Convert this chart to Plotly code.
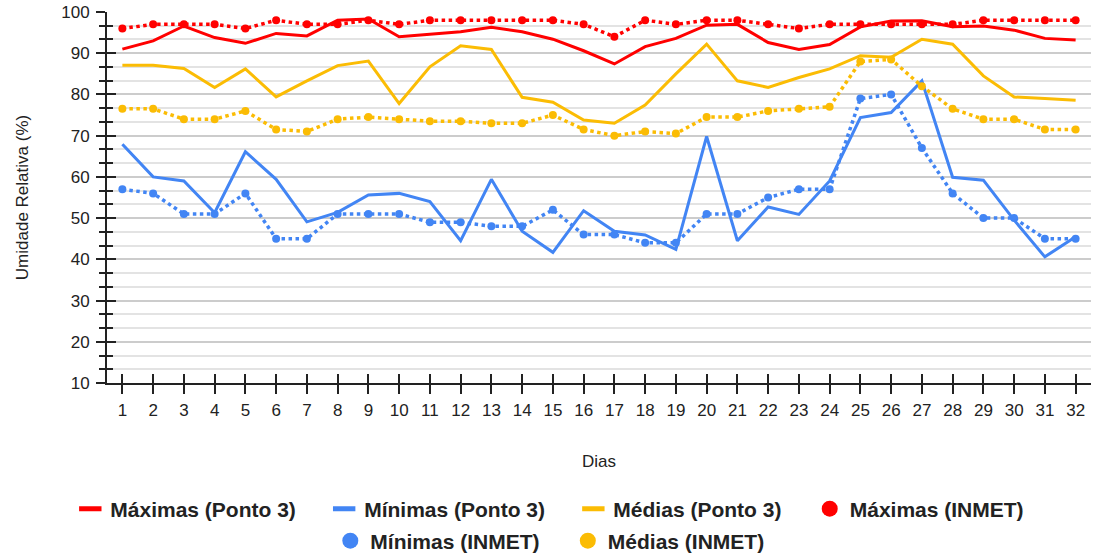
import plotly.graph_objects as go

days = list(range(1, 33))

max_p3 = [91.0, 93.0, 96.6, 93.8, 92.4, 94.8, 94.2, 98.0, 98.3, 94.0, 94.6,
          95.2, 96.3, 95.2, 93.4, 90.6, 87.4, 91.6, 93.6, 96.8, 97.0, 92.6,
          90.9, 92.1, 96.4, 97.8, 97.9, 96.4, 96.6, 95.6, 93.6, 93.2]
min_p3 = [67.9, 60.0, 59.0, 51.3, 66.1, 59.4, 49.1, 51.4, 55.6, 56.0, 54.0,
          44.5, 59.4, 46.8, 41.7, 51.8, 46.8, 45.9, 42.4, 69.8, 44.5, 52.7,
          50.9, 59.0, 74.4, 75.6, 83.3, 59.9, 59.2, 49.5, 40.6, 45.5]
med_p3 = [87.1, 87.1, 86.3, 81.7, 86.2, 79.4, 83.3, 87.0, 88.1, 77.8, 86.7,
          91.8, 90.9, 79.3, 78.1, 73.8, 73.0, 77.4, 85.0, 92.2, 83.3, 81.7,
          84.1, 86.2, 89.4, 89.0, 93.4, 92.2, 84.5, 79.4, 79.0, 78.6]
max_inmet = [96, 97, 97, 97, 96, 98, 97, 97, 98, 97, 98,
             98, 98, 98, 98, 97, 94, 98, 97, 98, 98, 97,
             96, 97, 97, 97, 97, 97, 98, 98, 98, 98]
min_inmet = [57, 56, 51, 51, 56, 45, 45, 51, 51, 51, 49,
             49, 48, 48, 52, 46, 46, 44, 44, 51, 51, 55,
             57, 57, 79, 80, 67, 56, 50, 50, 45, 45]
med_inmet = [76.5, 76.5, 74, 74, 76, 71.5, 71, 74, 74.5, 74, 73.5,
             73.5, 73, 73, 75, 71.5, 70, 71, 70.5, 74.5, 74.5, 76,
             76.5, 77, 88, 88.5, 82, 76.5, 74, 74, 71.5, 71.5]

names_p3 = ["Máximas (Ponto 3)", "Mínimas (Ponto 3)", "Médias (Ponto 3)"]
names_inmet = ["Máximas (INMET)", "Mínimas (INMET)", "Médias (INMET)"]
colors = ["#FF0000", "#4285F4", "#FBBC04"]

y_ticks = [10, 20, 30, 40, 50, 60, 70, 80, 90, 100]

FONT = "Liberation Sans, Arial, sans-serif"
INK = "#222222"

fig = go.Figure()

# Series (legend handled by proxy traces)
for vals, name, c in zip([max_p3, min_p3, med_p3], names_p3, colors):
    fig.add_trace(go.Scatter(x=days, y=vals, mode="lines", name=name,
                             line=dict(color=c, width=3), showlegend=False))
for vals, name, c in zip([max_inmet, min_inmet, med_inmet], names_inmet, colors):
    fig.add_trace(go.Scatter(x=days, y=vals, mode="lines+markers", name=name,
                             line=dict(color=c, width=3.5, dash="dot"),
                             marker=dict(color=c, size=8), showlegend=False))

# Legend proxies: first row (legend), second row (legend2)
legend_names = names_p3 + names_inmet
legend_colors = colors + colors
PAD = "\u00a0" * 4
for i, (name, c) in enumerate(zip(legend_names, legend_colors)):
    lg = "legend" if i < 4 else "legend2"
    label = name + PAD if i in (0, 1, 2, 4) else name
    if i < 3:
        mk = dict(symbol="line-ew", size=19, color=c, line=dict(color=c, width=5.5))
    else:
        mk = dict(symbol="circle", size=18, color=c)
    fig.add_trace(go.Scatter(x=[None], y=[None], mode="markers", name=label,
                             marker=mk, legend=lg))

# Invisible trace on overlay axes (for inside tick marks)
fig.add_trace(go.Scatter(x=days, y=max_p3, mode="lines", xaxis="x2", yaxis="y2",
                         opacity=0, showlegend=False, hoverinfo="skip"))

tick_font = dict(family=FONT, size=17, color=INK)
legend_font = dict(family=FONT, size=21, color=INK, weight="bold")

fig.update_layout(
    width=1097, height=555,
    margin=dict(l=107, r=6, t=12, b=172),
    paper_bgcolor="white", plot_bgcolor="white",
    xaxis=dict(range=[0.5, 32.5], tickmode="array", tickvals=days,
               ticktext=[str(d) for d in days], showgrid=False, automargin=False,
               showline=True, linecolor=INK, linewidth=2, ticklabeloverflow="allow",
               ticks="outside", ticklen=9, tickwidth=2, tickcolor=INK,
               tickfont=tick_font, zeroline=False, ticklabelstandoff=2,
               title=dict(text="Dias", standoff=36,
                          font=dict(family=FONT, size=17, color=INK))),
    yaxis=dict(range=[10, 100], tickmode="array", tickvals=y_ticks, automargin=False,
               showgrid=True, gridcolor="#cccccc", gridwidth=1.5,
               showline=True, linecolor=INK, linewidth=2, ticklabeloverflow="allow",
               ticks="outside", ticklen=9, tickwidth=2, tickcolor=INK,
               tickfont=tick_font, zeroline=False, ticklabelstandoff=3,
               minor=dict(tick0=10, dtick=10 / 3, ticks="outside", ticklen=6,
                          tickwidth=2, tickcolor=INK, showgrid=True,
                          gridcolor="#e3e3e3", gridwidth=1.5),
               title=dict(text="Umidade Relativa (%)", standoff=28,
                          font=dict(family=FONT, size=17, color=INK))),
    xaxis2=dict(range=[0.5, 32.5], overlaying="x", anchor="y2", side="bottom",
                tickmode="array", tickvals=days, showticklabels=False,
                showgrid=False, zeroline=False, showline=False, automargin=False,
                ticks="inside", ticklen=9, tickwidth=2, tickcolor=INK),
    yaxis2=dict(range=[10, 100], overlaying="y", anchor="x2", side="left",
                tickmode="array", tickvals=y_ticks, showticklabels=False,
                showgrid=False, zeroline=False, showline=False, automargin=False,
                ticks="inside", ticklen=9, tickwidth=2, tickcolor=INK,
                minor=dict(tick0=10, dtick=10 / 3, ticks="inside", ticklen=6,
                           tickwidth=2, tickcolor=INK, showgrid=False)),
    legend=dict(orientation="h", x=0.450, xanchor="center",
                yref="container", y=0.0829, yanchor="middle",
                font=legend_font, itemsizing="trace", tracegroupgap=0,
                bgcolor="rgba(0,0,0,0)"),
    legend2=dict(orientation="h", x=0.450, xanchor="center",
                 yref="container", y=0.0252, yanchor="middle",
                 font=legend_font, itemsizing="trace", tracegroupgap=0,
                 bgcolor="rgba(0,0,0,0)"),
    showlegend=True,
)

fig.write_html("out.html",
               config={"displayModeBar": False},
               post_script="document.body.style.margin='0';"
                           "document.body.style.overflow='hidden';")
